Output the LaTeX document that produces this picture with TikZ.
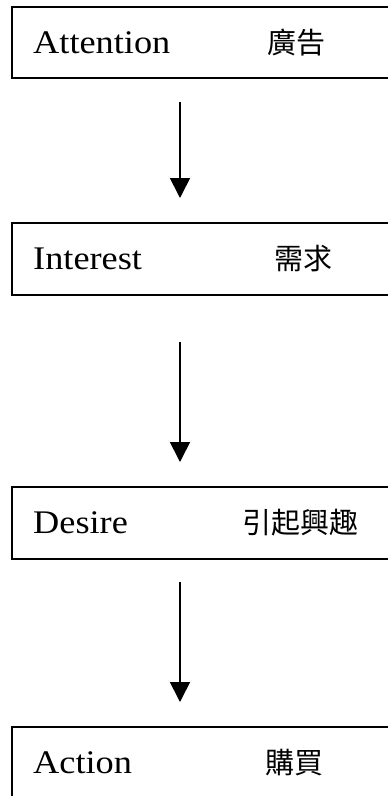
\documentclass[tikz,border=0pt]{standalone}
\usepackage{fontspec}
\setmainfont{Liberation Serif}
\newfontfamily\latf[FakeStretch=1.1]{Liberation Serif}
\newfontfamily\cjk{Noto Sans CJK TC}
\usetikzlibrary{arrows.meta}
\begin{document}
\begin{tikzpicture}[x=1pt,y=-1pt,
  stagebox/.style={draw=black, line width=2pt},
  lbl/.style={anchor=base west, inner sep=0pt, font=\latf\fontsize{33}{33}\selectfont},
  zh/.style={anchor=base west, inner sep=0pt, font=\cjk\fontsize{29}{29}\selectfont},
  flow/.style={line width=1.6pt, -{Triangle[width=20pt,length=20pt]}}]
\useasboundingbox (0,0) rectangle (388,796);
\clip (0,0) rectangle (388,796);
% boxes
\draw[stagebox] (12,7) rectangle (400,78);
\draw[stagebox] (12,223) rectangle (400,295);
\draw[stagebox] (12,487) rectangle (400,559);
\draw[stagebox] (12,727) rectangle (400,820);
% labels
\node[lbl] (t1) at (33,53) {Attention};
\node[zh]  (c1) at (267,53) {廣告};
\node[lbl] (t2) at (33,269) {Interest};
\node[zh]  (c2) at (274,269) {需求};
\node[lbl] (t3) at (33,533) {Desire};
\node[zh]  (c3) at (242,533) {引起興趣};
\node[lbl] (t4) at (33,773) {Action};
\node[zh]  (c4) at (265,773) {購買};
% arrows
\coordinate (a1s) at (180,102); \coordinate (a1e) at (180,198);
\coordinate (a2s) at (180,342); \coordinate (a2e) at (180,462);
\coordinate (a3s) at (180,582); \coordinate (a3e) at (180,702);
\draw[flow] (a1s) -- (a1e);
\draw[flow] (a2s) -- (a2e);
\draw[flow] (a3s) -- (a3e);
\end{tikzpicture}
\end{document}
